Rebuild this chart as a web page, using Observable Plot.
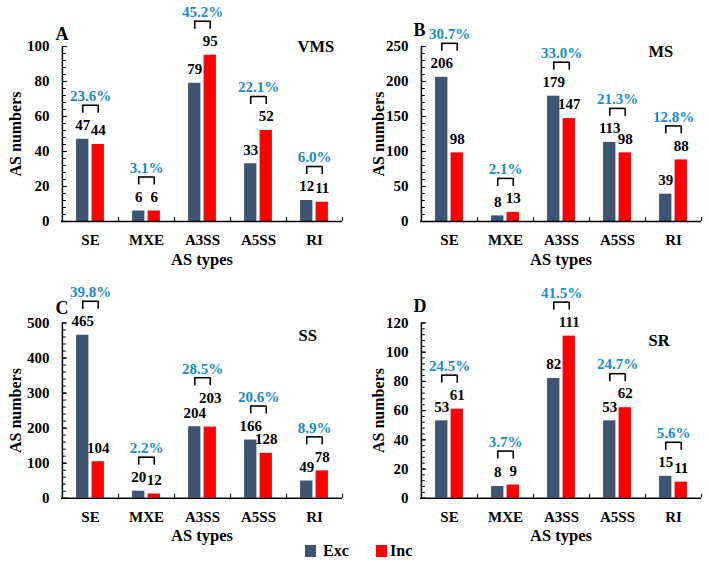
<!DOCTYPE html>
<html>
<head>
<meta charset="utf-8">
<script src="https://cdn.jsdelivr.net/npm/d3@7"></script>
<script src="https://cdn.jsdelivr.net/npm/@observablehq/plot@0.6"></script>
<style>
  body { margin: 0; background: white; }
  #wrap { position: relative; width: 709px; height: 563px; background: white; overflow: hidden; }
  .panel { position: absolute; }
  .panel svg text { font-family: "Liberation Serif", "Times New Roman", serif; font-weight: bold; }
  #legend { position: absolute; left: 0; top: 541px; width: 709px; height: 20px;
    font-family: "Liberation Serif", "Times New Roman", serif; font-weight: bold; font-size: 16px; }
  .sw { position: absolute; top: 4px; width: 11px; height: 12px; }
  .lt { position: absolute; top: 0px; line-height: 20px; }
</style>
</head>
<body>
<div id="wrap">
  <div id="pA" class="panel" style="left:0;top:0"></div>
  <div id="pB" class="panel" style="left:354px;top:0"></div>
  <div id="pC" class="panel" style="left:0;top:270px"></div>
  <div id="pD" class="panel" style="left:354px;top:270px"></div>
  <div id="legend"></div>
</div>
<script>
// ---- data ----
const categories = ["SE", "MXE", "A3SS", "A5SS", "RI"];
const series = ["Exc", "Inc"];
const seriesColors = ["#3D5573", "#FF0000"];

const excA = [47, 6, 79, 33, 12];
const incA = [44, 6, 95, 52, 11];
const pctA = ["23.6%", "3.1%", "45.2%", "22.1%", "6.0%"];

const excB = [206, 8, 179, 113, 39];
const incB = [98, 13, 147, 98, 88];
const pctB = ["30.7%", "2.1%", "33.0%", "21.3%", "12.8%"];

const excC = [465, 20, 204, 166, 49];
const incC = [104, 12, 203, 128, 78];
const pctC = ["39.8%", "2.2%", "28.5%", "20.6%", "8.9%"];

const excD = [53, 8, 82, 53, 15];
const incD = [61, 9, 111, 62, 11];
const pctD = ["24.5%", "3.7%", "41.5%", "24.7%", "5.6%"];

const panelLetters = ["A", "B", "C", "D"];
const groupNames = ["VMS", "MS", "SS", "SR"];
const yMaxes = [100, 250, 500, 120];
const yTickSteps = [20, 50, 100, 20];
const xTitle = "AS types";
const yTitle = "AS numbers";
const pctColor = "#1A8BC9";
const FONT = "Liberation Serif";

function panel(cfg) {
  const {exc, inc, pct, yMax, step, letter, group, width, height, mL, mR, mT, mB, letterDx, letterDy, groupDx, groupDy, titleDx} = cfg;
  const plotW = width - mL - mR;
  const plotH = height - mT - mB;
  const u = yMax / plotH;           // data units per pixel
  const bw = plotW / categories.length;
  const barW = 12.5, off = 7.75;
  const inset = (bw - barW) / 2;
  // raise the Inc label (and the bracket) when two wide labels would collide
  const liftPx = categories.map((c, i) =>
    (exc[i] >= 100 && inc[i] >= 100 && Math.abs(exc[i] - inc[i]) / u < 8) ? 15 : 0);
  const excRows = categories.map((c, i) => ({cat: c, s: "Exc", v: exc[i]}));
  const incRows = categories.map((c, i) => ({cat: c, s: "Inc", v: inc[i], ly: inc[i] + liftPx[i] * u}));
  const grp = categories.map((c, i) => {
    const top = Math.max(exc[i], inc[i]) + liftPx[i] * u;
    return {cat: c, top, pct: pct[i]};
  });
  const majors = d3.range(0, yMax + step / 2, step);
  const minors = d3.range(0, yMax + 1e-9, step / 5);
  const first = categories[0];
  const T = {fontFamily: FONT, fontWeight: "bold"};

  return Plot.plot({
    width, height,
    marginLeft: mL, marginRight: mR, marginTop: mT, marginBottom: mB,
    style: {fontFamily: FONT, fontWeight: "bold", fontSize: "14px", color: "black", background: "white", overflow: "visible"},
    x: {domain: categories, padding: 0, axis: null},
    y: {domain: [0, yMax], axis: null},
    color: {domain: series, range: seriesColors},
    marks: [
      // bars
      Plot.barY(excRows, {x: "cat", y: "v", fill: "s", insetLeft: inset, insetRight: inset, dx: -off}),
      Plot.barY(incRows, {x: "cat", y: "v", fill: "s", insetLeft: inset, insetRight: inset, dx: off}),
      // axes lines
      Plot.ruleY([0], {stroke: "black", strokeWidth: 1.5}),
      Plot.ruleX([first], {x: d => d, dx: -bw / 2, stroke: "black", strokeWidth: 1.5}),
      // y ticks (inward)
      Plot.tickY(minors, {x: () => first, y: d => d, insetLeft: 0, insetRight: bw - 4, stroke: "black", strokeWidth: 1}),
      Plot.tickY(majors, {x: () => first, y: d => d, insetLeft: 0, insetRight: bw - 5, stroke: "black", strokeWidth: 1.2}),
      // x boundary ticks (upward)
      Plot.ruleX(categories, {x: d => d, dx: bw / 2, y1: 0, y2: 4 * u, stroke: "black", strokeWidth: 1}),
      // y tick labels
      Plot.text(majors, {...T, frameAnchor: "left", y: d => d, text: d => String(d), textAnchor: "end", lineAnchor: "middle", dx: -12, fontSize: 15}),
      // category labels
      Plot.text(categories, {...T, x: d => d, frameAnchor: "bottom", text: d => d, textAnchor: "middle", lineAnchor: "middle", dy: 19, fontSize: 15}),
      // axis titles
      Plot.text([xTitle], {...T, frameAnchor: "bottom", text: d => d, textAnchor: "middle", lineAnchor: "middle", dy: 38, fontSize: 16.5}),
      Plot.text([yTitle], {...T, frameAnchor: "left", text: d => d, textAnchor: "middle", lineAnchor: "middle", rotate: -90, dx: titleDx, fontSize: 16}),
      // value labels
      Plot.text(excRows, {...T, x: "cat", y: "v", text: d => String(d.v), textAnchor: "middle", dx: -off, dy: -14, fontSize: 15}),
      Plot.text(incRows, {...T, x: "cat", y: "ly", text: d => String(d.v), textAnchor: "middle", dx: off, dy: -14, fontSize: 15}),
      // brackets
      Plot.tickY(grp, {x: "cat", y: d => d.top + 34 * u, insetLeft: bw / 2 - off, insetRight: bw / 2 - off, stroke: "black", strokeWidth: 1.6}),
      Plot.ruleX(grp, {x: "cat", y1: d => d.top + 26 * u, y2: d => d.top + 34 * u, dx: -off, stroke: "black", strokeWidth: 1.6}),
      Plot.ruleX(grp, {x: "cat", y1: d => d.top + 26 * u, y2: d => d.top + 34 * u, dx: off, stroke: "black", strokeWidth: 1.6}),
      Plot.text(grp, {...T, x: "cat", y: "top", text: "pct", textAnchor: "middle", dy: -43, fill: pctColor, fontSize: 15}),
      // panel letter and group name
      Plot.text([letter], {...T, frameAnchor: "top-left", text: d => d, textAnchor: "start", lineAnchor: "bottom", dx: letterDx, dy: letterDy, fontSize: 18}),
      Plot.text([group], {...T, frameAnchor: "top-left", text: d => d, textAnchor: "start", lineAnchor: "bottom", dx: groupDx, dy: groupDy, fontSize: 16.5})
    ]
  });
}

const layouts = [
  {id: "pA", width: 354, height: 270, mL: 61, mR: 12, mT: 46, mB: 49, letterDx: -6, letterDy: -7, groupDx: 236, groupDy: 5, titleDx: -46},
  {id: "pB", width: 355, height: 270, mL: 66, mR: 8, mT: 46, mB: 49, letterDx: -7, letterDy: -11, groupDx: 228, groupDy: 10, titleDx: -42},
  {id: "pC", width: 354, height: 272, mL: 61, mR: 12, mT: 52.5, mB: 44.3, letterDx: -6, letterDy: -9, groupDx: 237, groupDy: 18, titleDx: -46},
  {id: "pD", width: 355, height: 272, mL: 66, mR: 8, mT: 52.5, mB: 44.3, letterDx: -7, letterDy: -11, groupDx: 228, groupDy: 23, titleDx: -42}
];
const excs = [excA, excB, excC, excD];
const incs = [incA, incB, incC, incD];
const pcts = [pctA, pctB, pctC, pctD];

layouts.forEach((L, k) => {
  const el = panel({...L, exc: excs[k], inc: incs[k], pct: pcts[k], yMax: yMaxes[k], step: yTickSteps[k], letter: panelLetters[k], group: groupNames[k]});
  document.getElementById(L.id).appendChild(el);
});

// legend
const legend = document.getElementById("legend");
const legendPos = [{sw: 305, tx: 323}, {sw: 376, tx: 390}];
series.forEach((s, i) => {
  const sw = document.createElement("div");
  sw.className = "sw";
  sw.style.left = legendPos[i].sw + "px";
  sw.style.background = seriesColors[i];
  legend.appendChild(sw);
  const t = document.createElement("div");
  t.className = "lt";
  t.style.left = legendPos[i].tx + "px";
  t.textContent = s;
  legend.appendChild(t);
});
</script>
</body>
</html>
